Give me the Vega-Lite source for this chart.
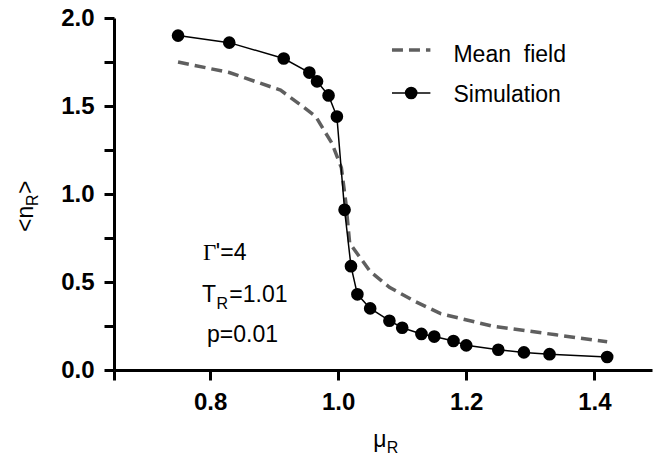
{
  "$schema": "https://vega.github.io/schema/vega-lite/v6.json",
  "width": 538,
  "height": 352,
  "autosize": {"type": "none"},
  "padding": {"left": 114, "top": 18, "right": 1, "bottom": 86},
  "background": "white",
  "config": {"view": {"stroke": null}, "font": "Liberation Sans"},
  "datasets": {
    "mf": [
      {"x": 0.75, "y": 1.75}, {"x": 0.83, "y": 1.69}, {"x": 0.91, "y": 1.59},
      {"x": 0.94, "y": 1.51}, {"x": 0.965, "y": 1.44}, {"x": 0.99, "y": 1.29},
      {"x": 1.005, "y": 1.15}, {"x": 1.012, "y": 0.95}, {"x": 1.018, "y": 0.72},
      {"x": 1.05, "y": 0.56}, {"x": 1.08, "y": 0.47}, {"x": 1.12, "y": 0.39},
      {"x": 1.16, "y": 0.32}, {"x": 1.24, "y": 0.25}, {"x": 1.34, "y": 0.2},
      {"x": 1.42, "y": 0.16}
    ],
    "sim": [
      {"x": 0.75, "y": 1.9}, {"x": 0.83, "y": 1.86}, {"x": 0.915, "y": 1.77},
      {"x": 0.955, "y": 1.69}, {"x": 0.967, "y": 1.64}, {"x": 0.985, "y": 1.56},
      {"x": 0.998, "y": 1.44}, {"x": 1.01, "y": 0.91}, {"x": 1.02, "y": 0.59},
      {"x": 1.03, "y": 0.43}, {"x": 1.05, "y": 0.35}, {"x": 1.08, "y": 0.28},
      {"x": 1.1, "y": 0.24}, {"x": 1.13, "y": 0.205}, {"x": 1.15, "y": 0.19},
      {"x": 1.18, "y": 0.165}, {"x": 1.2, "y": 0.14}, {"x": 1.25, "y": 0.115},
      {"x": 1.29, "y": 0.1}, {"x": 1.33, "y": 0.09}, {"x": 1.42, "y": 0.074}
    ],
    "legMf": [{"x": 1.084, "y": 1.818}, {"x": 1.144, "y": 1.818}],
    "legSim": [{"x": 1.084, "y": 1.574}, {"x": 1.144, "y": 1.574}],
    "legSimPt": [{"x": 1.114, "y": 1.574}],
    "labels": [
      {"x": 1.18, "y": 1.75, "t": "Mean\u00a0\u00a0field"},
      {"x": 1.18, "y": 1.523, "t": "Simulation"},
      {"x": 0.809, "y": 0.625, "t": "'=4"},
      {"x": 0.7875, "y": 0.386, "t": "T"},
      {"x": 0.83, "y": 0.386, "t": "=1.01"},
      {"x": 0.7953, "y": 0.159, "t": "p=0.01"},
      {"x": 1.0547, "y": -0.4375, "t": "μ"}
    ],
    "serif": [{"x": 0.789, "y": 0.625, "t": "Γ"}],
    "subs": [
      {"x": 0.81, "y": 0.347, "t": "R"},
      {"x": 1.076, "y": -0.4716, "t": "R"}
    ],
    "ytitle": [
      {"x": 0.5234, "y": 0.784, "t": "<n"},
      {"x": 0.5234, "y": 1.0, "t": ">"}
    ],
    "ytitleSub": [{"x": 0.5313, "y": 0.932, "t": "R"}]
  },
  "encoding": {
    "x": {
      "field": "x", "type": "quantitative",
      "scale": {"domain": [0.65, 1.49], "nice": false, "zero": false},
      "axis": {
        "title": null, "grid": false,
        "values": [0.65, 0.8, 1.0, 1.2, 1.4],
        "labelExpr": "datum.value < 0.7 ? '' : format(datum.value, '.1f')",
        "labelFont": "Liberation Sans", "labelFontWeight": "bold", "labelFontSize": 24,
        "labelColor": "black", "labelPadding": 10,
        "tickSize": 10, "tickWidth": 3, "tickColor": "black",
        "domainWidth": 3, "domainColor": "black"
      }
    },
    "y": {
      "field": "y", "type": "quantitative",
      "scale": {"domain": [0, 2], "nice": false, "zero": false},
      "axis": {
        "title": null, "grid": false,
        "values": [0, 0.25, 0.5, 0.75, 1, 1.25, 1.5, 1.75, 2],
        "labelExpr": "(datum.value * 2) % 1 == 0 ? format(datum.value, '.1f') : ''",
        "labelFont": "Liberation Sans", "labelFontWeight": "bold", "labelFontSize": 24,
        "labelColor": "black", "labelPadding": 10,
        "tickSize": 10, "tickWidth": 3, "tickColor": "black",
        "domainWidth": 3, "domainColor": "black"
      }
    }
  },
  "layer": [
    {"data": {"name": "mf"}, "mark": {"type": "line", "color": "#5f5f5f", "strokeWidth": 3.5, "strokeDash": [11, 6]}},
    {"data": {"name": "sim"}, "mark": {"type": "line", "color": "black", "strokeWidth": 1.5}},
    {"data": {"name": "sim"}, "mark": {"type": "point", "shape": "circle", "filled": true, "color": "black", "opacity": 1, "size": 160}},
    {"data": {"name": "legMf"}, "mark": {"type": "line", "color": "#5f5f5f", "strokeWidth": 3.5, "strokeDash": [11, 6]}},
    {"data": {"name": "legSim"}, "mark": {"type": "line", "color": "black", "strokeWidth": 1.5}},
    {"data": {"name": "legSimPt"}, "mark": {"type": "point", "shape": "circle", "filled": true, "color": "black", "opacity": 1, "size": 160}},
    {"data": {"name": "labels"}, "mark": {"type": "text", "align": "left", "baseline": "alphabetic", "fontSize": 23, "font": "Liberation Sans", "color": "black"}, "encoding": {"text": {"field": "t"}}},
    {"data": {"name": "serif"}, "mark": {"type": "text", "align": "left", "baseline": "alphabetic", "fontSize": 23, "font": "Liberation Serif", "color": "black"}, "encoding": {"text": {"field": "t"}}},
    {"data": {"name": "subs"}, "mark": {"type": "text", "align": "left", "baseline": "alphabetic", "fontSize": 16, "font": "Liberation Sans", "color": "black"}, "encoding": {"text": {"field": "t"}}},
    {"data": {"name": "ytitle"}, "mark": {"type": "text", "align": "left", "baseline": "alphabetic", "angle": 270, "fontSize": 23, "font": "Liberation Sans", "color": "black"}, "encoding": {"text": {"field": "t"}}},
    {"data": {"name": "ytitleSub"}, "mark": {"type": "text", "align": "left", "baseline": "alphabetic", "angle": 270, "fontSize": 16, "font": "Liberation Sans", "color": "black"}, "encoding": {"text": {"field": "t"}}}
  ]
}
